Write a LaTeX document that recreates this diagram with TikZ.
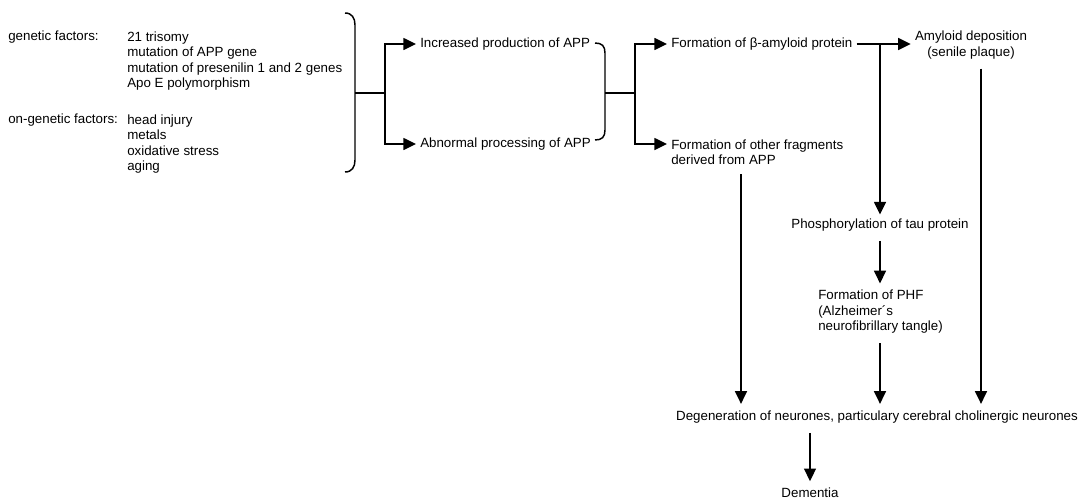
\documentclass[tikz,border=0pt]{standalone}
\usepackage{fontspec}
\setmainfont{Liberation Sans}
\usetikzlibrary{arrows.meta,calc}
\begin{document}
\begin{tikzpicture}[x=0.75pt,y=-0.75pt,
    line/.style={line width=1.1pt},
    arr/.style={line, -{Triangle[length=9.5pt,width=9pt]}},
    varr/.style={arr, shorten <=4pt, shorten >=2pt},
    txt/.style={inner sep=3pt, font=\fontsize{10}{11.6}\selectfont}]
% \clip (0,0) rectangle (1092,500);
\useasboundingbox (0,0) rectangle (1092,500);

% Factors
\node[txt, anchor=west] (genl) at (4,37) {genetic factors:};
\node[txt, anchor=west, align=left] (genlist) at (123,61) {21 trisomy\\mutation of APP gene\\mutation of presenilin 1 and 2 genes\\Apo E polymorphism};
\node[txt, anchor=west] (nongenl) at (4,120) {on-genetic factors:};
\node[txt, anchor=west, align=left] (nongenlist) at (123,144) {head injury\\metals\\oxidative stress\\aging};

% APP
\node[txt, anchor=west] (incr) at (416,44) {Increased production of APP};
\node[txt, anchor=west] (abn) at (416,144) {Abnormal processing of APP};

% Fragments
\node[txt, anchor=west] (abeta) at (667,44) {Formation of β-amyloid protein};
\node[txt, anchor=west, align=left] (frag) at (667,152) {Formation of other fragments\\derived from APP};
\node[txt, align=center] (amyl) at (971,45) {Amyloid deposition\\(senile plaque)};

% Tau, PHF
\node[txt] (tau) at (880,225) {Phosphorylation of tau protein};
\node[txt, anchor=west, align=left] (phf) at (814,312) {Formation of PHF\\(Alzheimer´s\\neurofibrillary tangle)};

% Outcome
\node[txt] (degen) at (877,417) {Degeneration of neurones, particulary cerebral cholinergic neurones};
\node[txt] (dem) at (810,493) {Dementia};

\coordinate (j1) at (385,93);
\coordinate (j2) at (635,93);
\coordinate (c1) at (741,0);
\coordinate (c3) at (981,0);

% Drawing brace of factors
\draw[line] (345,13) .. controls (352,13) and (355,18) .. (355,25) -- (355,160)
    .. controls (355,167) and (352,172) .. (345,172);
\draw[line] (355,93) -- (j1);
\draw[arr] (j1) |- (incr.west);
\draw[arr] (j1) |- (abn.west);

% Drawing brace of APP
\draw[line] (595,43) .. controls (602,43) and (605,46) .. (605,53) -- (605,130)
    .. controls (605,137) and (602,140) .. (595,140);
\draw[line] (605,93) -- (j2);
\draw[arr] (j2) |- (abeta.west);
\draw[arr] (j2) |- (abn -| frag.west);

% Drawing arrows of beta-amyloid
\draw[arr] (abeta.east) -- (abeta.east -| amyl.west);
\draw[arr] (abeta.east -| tau.north) -- (tau.north);

% Drawing arrows to degeneration
\draw[varr] (frag.south -| c1) -- (degen.north -| c1);
\draw[varr] (amyl.south -| c3) -- (degen.north -| c3);
\draw[varr] (tau.south) -- (phf.north -| tau.south);
\draw[varr] (phf.south -| tau.south) -- (degen.north -| tau.south);
\draw[varr] (degen.south -| dem.north) -- (dem.north);
\end{tikzpicture}
\end{document}
